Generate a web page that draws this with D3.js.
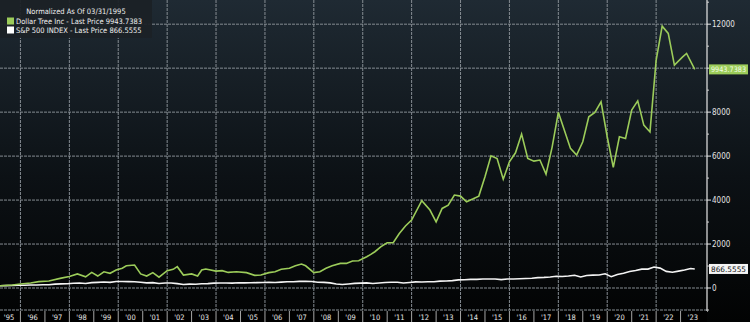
<!DOCTYPE html>
<html>
<head>
<meta charset="utf-8">
<script src="https://cdn.jsdelivr.net/npm/d3@7"></script>
<style>
  html, body { margin: 0; padding: 0; background: #000; }
  svg { display: block; }
  text { font-family: "DejaVu Sans Condensed", "DejaVu Sans", sans-serif; }
</style>
</head>
<body>
<script>
// Dollar Tree vs S&P 500, normalized to 100 at 03/31/1995
var dtDates = ["1995-03","1995-09","1996-01","1996-06","1996-10","1997-03","1997-09","1998-01","1998-05","1998-09","1998-12",
  "1999-03","1999-06","1999-09","1999-12","2000-03","2000-05","2000-09","2000-12","2001-03","2001-06","2001-09",
  "2002-01","2002-04","2002-06","2002-09","2003-01","2003-04","2003-06","2003-08","2004-01","2004-04","2004-07","2004-11",
  "2005-04","2005-08","2005-11","2006-03","2006-06","2006-09","2007-01","2007-04","2007-07","2007-09",
  "2008-01","2008-04","2008-07","2008-10","2009-02","2009-05","2009-08","2009-11","2010-03","2010-05","2010-07","2010-10",
  "2011-01","2011-04","2011-07","2011-10","2012-01","2012-06","2012-10","2013-01","2013-04","2013-07","2013-10",
  "2014-01","2014-04","2014-07","2014-10","2015-01","2015-04","2015-07","2015-10","2016-01","2016-04","2016-07","2016-10",
  "2017-01","2017-04","2017-07","2017-10","2018-01","2018-04","2018-07","2018-10","2019-01","2019-04","2019-07","2019-10",
  "2020-01","2020-04","2020-07","2020-10","2021-01","2021-04","2021-07","2021-10","2022-01","2022-04","2022-07","2022-10",
  "2023-02","2023-04","2023-08"]
var dtValues = [100,140,180,230,290,320,450,520,640,510,710,
  545,740,670,820,900,1010,1045,640,545,700,490,
  790,850,970,590,640,545,820,865,770,790,710,740,
  700,575,590,700,740,850,900,1010,1090,1010,
  700,740,900,1010,1120,1120,1230,1240,1420,1530,1650,1880,
  2060,2060,2480,2820,3090,3970,3545,3010,3620,3770,4230,
  4180,3920,4045,4180,5060,6010,5890,4950,5740,6150,7000,5890,
  5770,5820,5180,6420,7990,7180,6350,6045,6650,7790,7990,8470,
  6880,5490,6880,6800,8090,8510,7410,7100,10360,11910,11580,10140,
  10510,10670,9943.7383]

var spxDates = ["1995-03","1995-06","1995-09","1995-12","1996-03","1996-06","1996-09","1996-12",
  "1997-03","1997-06","1997-09","1997-12","1998-03","1998-06","1998-09","1998-12",
  "1999-03","1999-06","1999-09","1999-12","2000-03","2000-06","2000-09","2000-12",
  "2001-03","2001-06","2001-09","2001-12","2002-03","2002-06","2002-09","2002-12",
  "2003-03","2003-06","2003-09","2003-12","2004-03","2004-06","2004-09","2004-12",
  "2005-03","2005-06","2005-09","2005-12","2006-03","2006-06","2006-09","2006-12",
  "2007-03","2007-06","2007-09","2007-12","2008-03","2008-06","2008-09","2008-12",
  "2009-03","2009-06","2009-09","2009-12","2010-03","2010-06","2010-09","2010-12",
  "2011-03","2011-06","2011-09","2011-12","2012-03","2012-06","2012-09","2012-12",
  "2013-03","2013-06","2013-09","2013-12","2014-03","2014-06","2014-09","2014-12",
  "2015-03","2015-06","2015-09","2015-12","2016-03","2016-06","2016-09","2016-12",
  "2017-03","2017-06","2017-09","2017-12","2018-03","2018-06","2018-09","2018-12",
  "2019-03","2019-06","2019-09","2019-12","2020-03","2020-06","2020-09","2020-12",
  "2021-03","2021-06","2021-09","2021-12","2022-03","2022-06","2022-09","2022-12",
  "2023-03","2023-06","2023-08"]
var spxValues = [100,109,117,123,129,134,137,148,
  151,177,189,194,220,226,203,245,
  257,274,256,293,299,290,287,264,
  232,244,208,229,229,198,163,176,
  169,195,199,222,225,228,222,242,
  236,238,245,249,258,254,267,283,
  284,300,305,293,264,256,233,180,
  159,184,211,223,233,206,228,251,
  265,264,226,251,281,272,288,285,
  313,321,336,369,374,391,394,411,
  413,412,383,408,411,419,433,447,
  472,484,503,534,527,543,582,501,
  566,588,595,645,516,619,672,750,
  793,858,860,952,905,756,716,767,
  821,889,866.5555]

// axis labels shown (10000 sits under the price tag)
var yTicks = [0,2000,4000,6000,8000,10000,12000]
var yLabelTicks = [0,2000,4000,6000,8000,12000]
var yMinorTicks = [-1000,1000,3000,5000,7000,9000,11000,13000]
var gridYears = [1996,1998,2000,2002,2004,2006,2008,2010,2012,2014,2016,2018,2020,2022]
var yearLabels = ["'95","'96","'97","'98","'99","'00","'01","'02","'03","'04","'05","'06","'07","'08","'09",
  "'10","'11","'12","'13","'14","'15","'16","'17","'18","'19","'20","'21","'22","'23"]

var legendTitle = "Normalized As Of 03/31/1995"
var legendRows = ["Dollar Tree Inc - Last Price 9943.7383", "S&P 500 INDEX - Last Price 866.5555"]
var dtColor = "#9ccc5a"
var spxColor = "#f4f4f4"

var W = 750, H = 322
var plotRight = 707, plotBottom = 310

var parse = d3.timeParse("%Y-%m")
var dtData = dtDates.map((d,i) => ({date: parse(d), value: dtValues[i]}))
var spxData = spxDates.map((d,i) => ({date: parse(d), value: spxValues[i]}))

var x = d3.scaleTime()
  .domain([new Date(1995,0,1), new Date(2024,0,1)])
  .range([-4, plotRight - 2])
var y = d3.scaleLinear()
  .domain([-1000, 13100])
  .range([plotBottom, 0])

var svg = d3.select("body").append("svg")
  .attr("width", W).attr("height", H)

var defs = svg.append("defs")
var grad = defs.append("linearGradient").attr("id","bg")
  .attr("x1",0).attr("y1",0).attr("x2",0).attr("y2",1)
grad.append("stop").attr("offset","0%").attr("stop-color","#1f2a33")
grad.append("stop").attr("offset","55%").attr("stop-color","#0c1115")
grad.append("stop").attr("offset","100%").attr("stop-color","#020303")
defs.append("clipPath").attr("id","clip")
  .append("rect").attr("x",0).attr("y",0).attr("width",plotRight).attr("height",plotBottom)

svg.append("rect").attr("width",W).attr("height",H).attr("fill","url(#bg)")

// GRID
var grid = svg.append("g")
grid.selectAll("line.h").data(yTicks.concat([-1000])).enter().append("line")
  .attr("x1",0).attr("x2",plotRight)
  .attr("y1",d=>y(d)).attr("y2",d=>y(d))
  .attr("stroke","#858c92").attr("stroke-width",1)
  .attr("stroke-dasharray","3,1")
grid.selectAll("line.v").data(gridYears).enter().append("line")
  .attr("x1",d=>x(new Date(d,0,1))).attr("x2",d=>x(new Date(d,0,1)))
  .attr("y1",0).attr("y2",plotBottom)
  .attr("stroke","#858c92").attr("stroke-width",1)
  .attr("stroke-dasharray","3,1")

// LINES
var line = d3.line().x(d=>x(d.date)).y(d=>y(d.value))
var lines = svg.append("g").attr("clip-path","url(#clip)")
lines.append("path").datum(spxData)
  .attr("d",line).attr("fill","none")
  .attr("stroke",spxColor).attr("stroke-width",1.6)
lines.append("path").datum(dtData)
  .attr("d",line).attr("fill","none")
  .attr("stroke",dtColor).attr("stroke-width",1.6)

// RIGHT AXIS
var axisG = svg.append("g").attr("transform","translate("+plotRight+",0)")
axisG.append("line").attr("x1",0).attr("x2",0).attr("y1",0).attr("y2",plotBottom + 2)
  .attr("stroke","#e8e8e8").attr("stroke-width",1.2)
axisG.selectAll("line.minor").data(yMinorTicks).enter().append("line")
  .attr("x1",0).attr("x2",2).attr("y1",d=>y(d)).attr("y2",d=>y(d))
  .attr("stroke","#d0d0d0")
axisG.selectAll("line.major").data(yTicks).enter().append("line")
  .attr("x1",0).attr("x2",4).attr("y1",d=>y(d)).attr("y2",d=>y(d))
  .attr("stroke","#e8e8e8")
axisG.selectAll("text").data(yLabelTicks).enter().append("text")
  .attr("x",5).attr("y",d=>y(d)).attr("dy","0.35em")
  .attr("fill","#e4e4e4").attr("font-size",8)
  .text(d=>d)

// LAST PRICE TAGS
var tags = [
  {v: dtValues[dtValues.length-1], fill: dtColor, text: "#f4ffe6", label: "9943.7383"},
  {v: spxValues[spxValues.length-1], fill: "#f4f4f4", text: "#111", label: "866.5555"}
]
var tagG = svg.selectAll("g.tag").data(tags).enter().append("g")
  .attr("transform", d => "translate(" + (plotRight + 2) + "," + y(d.v) + ")")
tagG.append("rect").attr("x",0).attr("y",-5).attr("width",39).attr("height",10)
  .attr("fill", d=>d.fill)
tagG.append("text").attr("x",2).attr("y",0).attr("dy","0.35em")
  .attr("font-size",7.5).attr("fill", d=>d.text)
  .attr("textLength",35).attr("lengthAdjust","spacingAndGlyphs")
  .text(d=>d.label)

// X AXIS STRIP
var strip = svg.append("g")
strip.append("rect").attr("x",0).attr("y",plotBottom + 1).attr("width",plotRight).attr("height",H - plotBottom - 1)
  .attr("fill","#000")
var years = d3.range(1995, 2024)
strip.selectAll("line").data(years.slice(1)).enter().append("line")
  .attr("x1",d=>x(new Date(d,0,1))).attr("x2",d=>x(new Date(d,0,1)))
  .attr("y1",plotBottom + 1).attr("y2",H)
  .attr("stroke","#cfcfcf").attr("stroke-width",0.8)
strip.selectAll("text").data(years).enter().append("text")
  .attr("x",d=>Math.max(9, (x(new Date(d,0,1)) + x(new Date(d+1,0,1)))/2))
  .attr("y",H - 2.5)
  .attr("text-anchor","middle")
  .attr("fill","#e8e8e8").attr("font-size",7.5)
  .text((d,i)=>yearLabels[i])

// LEGEND
var legend = svg.append("g")
legend.append("rect").attr("x",0).attr("y",0).attr("width",152).attr("height",38)
  .attr("fill","#1b2126").attr("opacity",0.95)
legend.append("text").attr("x",76).attr("y",14).attr("text-anchor","middle")
  .attr("fill","#f0f0f0").attr("font-size",7.5)
  .text(legendTitle)
var rows = legend.selectAll("g.row").data(legendRows).enter().append("g")
  .attr("transform",(d,i)=>"translate(0," + (20 + i*9) + ")")
rows.append("rect").attr("x",7).attr("y",-2.5).attr("width",7).attr("height",7)
  .attr("fill",(d,i)=> i == 0 ? dtColor : "#ffffff")
rows.append("text").attr("x",16).attr("y",1).attr("dy","0.35em")
  .attr("fill","#f0f0f0").attr("font-size",7.5)
  .text(d=>d)
</script>
</body>
</html>
